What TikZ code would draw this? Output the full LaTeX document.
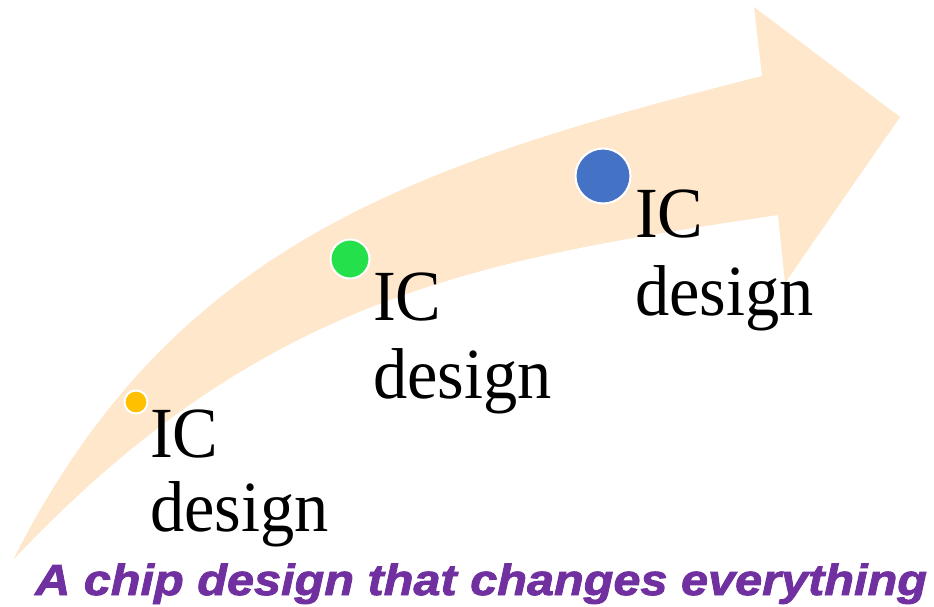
\documentclass[tikz,border=0pt]{standalone}
\usepackage{fontspec}
\newfontfamily\icfont[FakeStretch=0.95]{Liberation Serif}
\newfontfamily\tagfont[FakeStretch=1.118,FakeBold=2]{Liberation Sans}
\definecolor{arrowfill}{RGB}{255,231,204}
\definecolor{dotyellow}{RGB}{255,192,0}
\definecolor{dotgreen}{RGB}{36,225,75}
\definecolor{dotblue}{RGB}{68,114,196}
\definecolor{tagpurple}{RGB}{112,48,160}
\tikzset{
  dot/.style={circle, draw=white, line width=2pt, inner sep=0pt},
  ictext/.style={anchor=base west, inner sep=0pt, font=\icfont\fontsize{72}{76}\selectfont},
  tagtext/.style={anchor=base west, inner sep=0pt, text=tagpurple, font=\tagfont\bfseries\itshape\fontsize{43.5}{46}\selectfont}
}
\begin{document}
\begin{tikzpicture}[x=1pt,y=-1pt]
\useasboundingbox (0,0) rectangle (934,606);
% curved arrow
\fill[arrowfill] (13,560) .. controls (172,245) and (410,165) .. (762,76)
  -- (754,7) -- (900,117) -- (785,283) -- (778,215)
  .. controls (478,260) and (263,295) .. (13,560) -- cycle;
% dots
\node[dot, fill=dotyellow, minimum size=23pt] (d1) at (136,402) {};
\node[dot, fill=dotgreen, minimum size=39pt] (d2) at (350,259) {};
\node[dot, fill=dotblue, minimum size=55pt] (d3) at (603,176) {};
% labels
\node[ictext] (ic1) at (150,457) {IC};
\node[ictext] (de1) at (150,531) {design};
\node[ictext] (ic2) at (373,320) {IC};
\node[ictext] (de2) at (373,398) {design};
\node[ictext] (ic3) at (635,237) {IC};
\node[ictext] (de3) at (635,315) {design};
% tagline
\node[tagtext] (tag) at (35,595) {A chip design that changes everything};
\end{tikzpicture}
\end{document}
